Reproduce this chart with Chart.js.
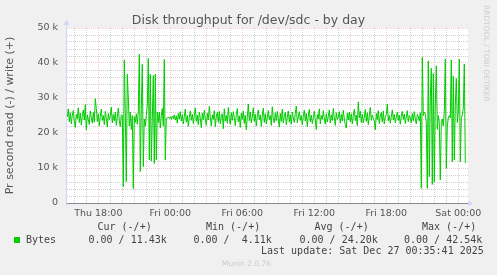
<!DOCTYPE html>
<html>
<head>
<meta charset="utf-8">
<title>Disk throughput for /dev/sdc - by day</title>
<script src="https://cdn.jsdelivr.net/npm/chart.js@4.4.1/dist/chart.umd.min.js"></script>
<style>
  html, body { margin: 0; padding: 0; background: #f0f0f0; }
  #wrap { position: relative; width: 497px; height: 275px; overflow: hidden; }
  #chart { position: absolute; left: 0; top: 0; }
  .txt { position: absolute; white-space: pre; font-family: "DejaVu Sans", sans-serif; color: #555; }
  .mono { position: absolute; white-space: pre; font-family: "DejaVu Sans Mono", monospace;
          font-size: 10px; line-height: 12px; color: #444; }
  #title { left: 0; width: 497px; top: 12px; text-align: center; font-size: 12.5px; line-height: 15px; }
  #rrd { left: 482px; top: 5px; font-size: 7.5px; line-height: 8px; color: #ccc; writing-mode: vertical-rl; }
  #munin { left: 222px; top: 259px; font-size: 7.5px; line-height: 9px; color: #ccc; }
  #swatch { position: absolute; left: 14px; top: 237px; width: 6px; height: 6px; background: #00cc00; }
</style>
</head>
<body>
<div id="wrap">
  <canvas id="chart" width="497" height="275"></canvas>
  <div id="title" class="txt">Disk throughput for /dev/sdc - by day</div>
  <div id="rrd" class="txt">RRDTOOL / TOBI OETIKER</div>

  <div class="mono" style="left:97.5px;top:221px">Cur (-/+)</div>
  <div class="mono" style="left:206px;top:221px">Min (-/+)</div>
  <div class="mono" style="left:314.5px;top:221px">Avg (-/+)</div>
  <div class="mono" style="left:422px;top:221px">Max (-/+)</div>

  <div id="swatch"></div>
  <div class="mono" style="left:26px;top:234px">Bytes</div>
  <div class="mono" style="left:88.5px;top:234px">0.00 / 11.43k</div>
  <div class="mono" style="left:193.5px;top:234px">0.00 /  4.11k</div>
  <div class="mono" style="left:299.5px;top:234px">0.00 / 24.20k</div>
  <div class="mono" style="left:404px;top:234px">0.00 / 42.54k</div>

  <div class="mono" style="left:261px;top:245px">Last update: Sat Dec 27 00:35:41 2025</div>
  <div id="munin" class="txt">Munin 2.0.76</div>
</div>

<script>
// write throughput in thousands of bytes/s, one sample every 5 minutes
// Thu 15:25 .. 23:55
const bytesThu = [
  24.6, 26.9, 23.2, 25.8, 22.6, 25.1, 26.4,
  23.4, 21.6, 25.3, 24.1, 27.2, 23.0, 25.7, 22.3, 24.8, 26.6, 23.7, 28.1,
  20.9, 25.2, 23.9, 22.4, 26.3, 24.4, 22.8, 25.9, 23.1, 29.8, 27.0, 23.3,
  25.5, 22.1, 24.7, 26.8, 23.6, 25.0, 22.4, 26.2, 24.1, 21.7, 25.6, 23.8,
  24.9, 27.4, 22.9, 25.3, 23.5, 26.0, 22.2, 24.6, 27.1, 23.4, 21.8, 25.2,
  25.0, 4.7, 40.9, 26.0, 6.1, 36.8, 30.0, 22.0, 26.0, 21.0, 25.0, 4.11,
  24.7, 23.0, 25.5, 22.5, 26.0, 42.54, 9.0, 27.0, 39.6, 10.4, 24.0, 22.0,
  25.0, 28.0, 41.3, 12.3, 36.8, 12.0, 24.0, 36.4, 11.3, 36.8, 12.3, 26.0,
  23.0, 26.0, 21.4, 25.0, 27.0, 22.0, 41.0, 12.3, 24.0, 24.4, 24.5, 24.2,
];
// Fri 00:00 .. 23:55
const bytesFri = [
  24.6, 23.9, 24.8, 24.1, 25.2, 23.7, 24.9, 22.8, 25.6, 24.0, 26.1, 23.4,
  25.3, 22.6, 24.7, 26.8, 23.1, 25.0, 21.9, 24.5, 26.3, 23.6, 25.4, 22.7,
  24.9, 27.2, 23.3, 25.1, 22.4, 26.0, 24.2, 21.5, 25.7, 23.8, 26.5, 24.0,
  22.2, 25.6, 23.7, 27.6, 24.3, 22.0, 25.2, 23.9, 26.4, 21.8, 24.7, 25.9,
  23.1, 26.2, 22.6, 24.8, 25.5, 21.2, 26.9, 23.4, 25.0, 22.8, 27.3, 24.1,
  22.5, 25.8, 23.6, 26.1, 24.4, 22.1, 25.3, 27.0, 23.2, 24.9, 21.6, 25.7,
  23.9, 26.3, 22.7, 25.1, 20.9, 24.5, 28.3, 23.5, 26.0, 22.9, 24.6, 27.2,
  23.3, 25.4, 22.0, 24.8, 26.6, 23.7, 25.2, 21.9, 24.9, 27.1, 23.0, 25.5,
  22.6, 24.3, 26.4, 23.8, 25.0, 22.2, 27.5, 24.1, 22.9, 25.8, 23.5, 26.2,
  24.0, 21.7, 25.6, 23.3, 26.8, 22.8, 24.7, 25.9, 22.4, 24.5, 26.3, 23.1,
  25.2, 22.5, 26.0, 24.3, 23.0, 25.7, 27.7, 22.9, 24.6, 26.1, 23.6, 25.0,
  22.3, 24.8, 26.5, 23.4, 25.6, 21.8, 24.9, 26.7, 23.2, 25.1, 22.7, 24.4,
  26.2, 23.7, 21.0, 25.3, 24.0, 26.9, 22.6, 25.0, 23.9, 26.4, 24.2, 22.5,
  25.5, 23.1, 24.7, 26.6, 22.9, 25.2, 23.6, 27.0, 24.3, 22.2, 25.8, 23.9,
  24.6, 26.1, 22.8, 25.3, 23.4, 26.5, 24.0, 22.4, 21.4, 25.7, 23.7, 26.0,
  23.2, 25.5, 22.6, 24.9, 26.8, 23.5, 25.1, 22.1, 28.9, 24.3, 26.2, 23.0,
  25.4, 22.9, 24.6, 26.7, 23.3, 25.8, 22.4, 24.9, 27.3, 23.6, 25.1, 24.2,
  23.4, 20.9, 25.6, 23.8, 26.4, 22.7, 24.8, 25.9, 23.1, 26.3, 22.6, 24.7,
  25.2, 28.3, 23.5, 25.0, 22.8, 24.6, 26.6, 23.7, 25.3, 22.9, 24.4, 26.0,
  23.6, 25.1, 22.5, 24.8, 26.2, 23.9, 25.4, 22.7, 24.6, 26.4, 23.2, 25.0,
  24.3, 22.9, 25.6, 23.5, 26.1, 24.0, 22.6, 25.3, 24.7, 23.4, 25.8, 4.2,
  41.6, 25.0, 26.0, 25.5, 23.0, 4.2, 40.6, 7.5, 30.0, 38.5, 5.3, 37.0,
  6.0, 28.0, 39.2, 21.0, 25.0, 23.0, 6.6, 22.9, 24.0, 22.0, 26.0, 41.1,
  9.9, 22.0, 24.3, 25.0, 24.3, 40.9, 11.8, 36.3, 12.3, 28.0, 35.6, 23.0,
];
// Sat 00:00 .. 00:35
const bytesSat = [26.0, 41.1, 11.8, 24.0, 25.2, 27.0, 39.7, 11.43];

// hours counted from Thu 00:00
const FIRST_SAMPLE_HOUR = 15 + 25 / 60;
const SAMPLE_STEP_HOUR = 5 / 60;
const X_MIN = 15.308;
const X_MAX = 48.808;

const xTickHours = [18, 24, 30, 36, 42, 48];
const xTickLabels = ["Thu 18:00", "Fri 00:00", "Fri 06:00", "Fri 12:00", "Fri 18:00", "Sat 00:00"];
const yTickValues = [0, 10, 20, 30, 40, 50];
const yTickLabels = ["0", "10 k", "20 k", "30 k", "40 k", "50 k"];

const MAJOR = "rgba(235, 60, 60, 0.26)";
const MINOR = "rgba(128, 128, 128, 0.38)";
const AXIS = "#CFD6F8";
const FONT_COL = "#555";

const values = bytesThu.concat(bytesFri, bytesSat);
const points = values.map((v, i) => ({ x: FIRST_SAMPLE_HOUR + i * SAMPLE_STEP_HOUR, y: v }));

const canvasBg = {
  id: "canvasBg",
  beforeDraw(chart) {
    const { ctx, chartArea: a } = chart;
    ctx.save();
    ctx.fillStyle = "#ffffff";
    ctx.fillRect(a.left, a.top, a.right - a.left, a.bottom - a.top);
    ctx.restore();
  },
};

const arrows = {
  id: "arrows",
  afterDraw(chart) {
    const { ctx, chartArea: a } = chart;
    const x0 = Math.round(a.left) + 0.5;
    const y0 = Math.round(a.bottom) + 0.5;
    ctx.save();
    ctx.strokeStyle = AXIS;
    ctx.fillStyle = AXIS;
    ctx.lineWidth = 1;
    ctx.beginPath();
    ctx.moveTo(x0, a.bottom + 3);
    ctx.lineTo(x0, a.top - 4);
    ctx.stroke();
    ctx.beginPath();
    ctx.moveTo(x0 - 3, a.top - 3);
    ctx.lineTo(x0 + 3, a.top - 3);
    ctx.lineTo(x0, a.top - 8);
    ctx.closePath();
    ctx.fill();
    ctx.beginPath();
    ctx.moveTo(a.right, y0 - 3);
    ctx.lineTo(a.right, y0 + 3);
    ctx.lineTo(a.right + 5, y0);
    ctx.closePath();
    ctx.fill();
    ctx.restore();
  },
};

new Chart(document.getElementById("chart"), {
  type: "line",
  data: {
    datasets: [
      {
        label: "Bytes",
        data: points,
        borderColor: "#00cc00",
        borderWidth: 1,
        pointRadius: 0,
        tension: 0,
        fill: false,
      },
    ],
  },
  options: {
    responsive: false,
    animation: false,
    devicePixelRatio: 1,
    layout: { padding: { left: 0, top: 28, right: 29, bottom: 0 } },
    plugins: {
      legend: { display: false },
      title: { display: false },
      tooltip: { enabled: false },
    },
    scales: {
      x: {
        type: "linear",
        min: X_MIN,
        max: X_MAX,
        afterBuildTicks(scale) {
          const t = [];
          for (let h = 16; h <= 48; h++) t.push({ value: h });
          scale.ticks = t;
        },
        afterFit(scale) {
          scale.height = 72;
        },
        grid: {
          color: (c) => (c.tick && c.tick.value % 3 === 0 ? MAJOR : MINOR),
          drawTicks: false,
        },
        border: { color: "#8a8a96", width: 1, dash: [1, 1] },
        ticks: {
          autoSkip: false,
          maxRotation: 0,
          padding: 5,
          color: FONT_COL,
          font: { family: "DejaVu Sans", size: 9.5 },
          callback: (v) => {
            const k = xTickHours.indexOf(v);
            return k >= 0 ? xTickLabels[k] : "";
          },
        },
      },
      y: {
        min: 0,
        max: 50,
        afterFit(scale) {
          scale.width = 66;
        },
        grid: {
          color: (c) => (c.tick && c.tick.value % 10 === 0 ? MAJOR : MINOR),
          drawTicks: false,
        },
        border: { color: AXIS, width: 1, dash: [1, 1] },
        ticks: {
          stepSize: 2,
          autoSkip: false,
          padding: 8,
          color: FONT_COL,
          font: { family: "DejaVu Sans", size: 9.5 },
          callback: (v) => {
            const k = yTickValues.indexOf(v);
            return k >= 0 ? yTickLabels[k] : "";
          },
        },
        title: {
          display: true,
          text: "Pr second read (-) / write (+)",
          color: FONT_COL,
          font: { family: "DejaVu Sans", size: 11 },
          padding: { top: 4, bottom: 4 },
        },
      },
    },
  },
  plugins: [canvasBg, arrows],
});
</script>
</body>
</html>
